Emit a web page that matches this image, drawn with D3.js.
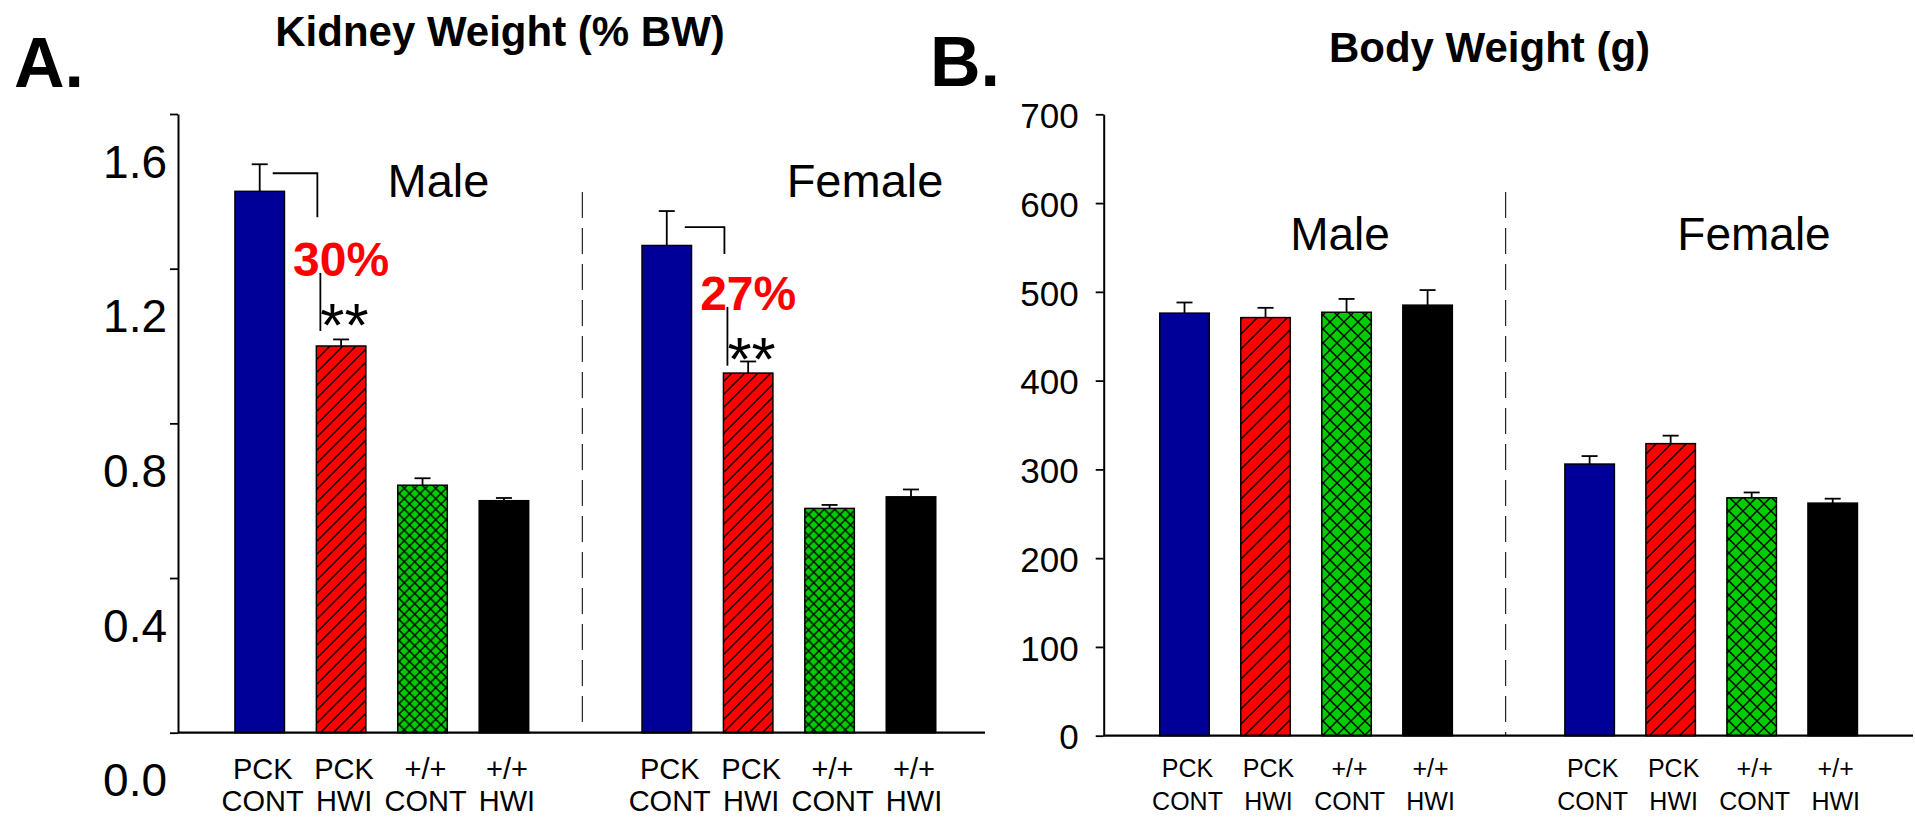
<!DOCTYPE html><html><head><meta charset="UTF-8"><script src="https://d3js.org/d3.v7.min.js"></script><style>
    body { margin: 0; background: #fff; }
    svg { font-family: "Liberation Sans", Arial, sans-serif; }
</style></head><body><div id="chart"></div><script>
    // data
    const groups = ["Male", "Female"];
    const catTop = ["PCK", "PCK", "+/+", "+/+"];
    const catBottom = ["CONT", "HWI", "CONT", "HWI"];
    const kidneyMean = [[1.40, 1.00, 0.64, 0.60], [1.26, 0.93, 0.58, 0.61]];
    const kidneyErr = [[0.070, 0.017, 0.018, 0.007], [0.089, 0.030, 0.009, 0.019]];
    const kidneyTicks = [0, 0.4, 0.8, 1.2, 1.6];
    const bodyMean = [[476, 471, 477, 485], [306, 329, 268, 262]];
    const bodyErr = [[12, 11, 15, 17], [9, 9, 6, 5]];
    const bodyTicks = [0, 100, 200, 300, 400, 500, 600, 700];
    const reductions = ["30%", "27%"];

    const svg = d3.select('#chart').append('svg')
        .attr('width', 1915).attr('height', 818);

    const defs = svg.append('defs');
    function hatch(id, s) {
        const p = defs.append('pattern').attr('id', id)
            .attr('patternUnits', 'userSpaceOnUse').attr('width', s).attr('height', s);
        p.append('rect').attr('width', s).attr('height', s).attr('fill', '#ff0000');
        p.append('path').attr('d', `M0,${s} L${s},0 M-2,2 L2,-2 M${s-2},${s+2} L${s+2},${s-2}`)
            .attr('stroke', '#000').attr('stroke-width', 1.4);
    }
    function cross(id, s) {
        const p = defs.append('pattern').attr('id', id)
            .attr('patternUnits', 'userSpaceOnUse').attr('width', s).attr('height', s);
        p.append('rect').attr('width', s).attr('height', s).attr('fill', '#00cc00');
        p.append('path').attr('d', `M0,0 L${s},${s} M${s},0 L0,${s}`)
            .attr('stroke', '#000').attr('stroke-width', 1.4);
    }
    hatch('redA', 13); cross('greenA', 10.5);
    hatch('redB', 15); cross('greenB', 14);

    function drawPanel(cfg) {
        const g = svg.append('g');
        const x = d3.scalePoint().domain(d3.range(9)).range(cfg.xRange);
        const y = d3.scaleLinear().domain(cfg.domain).range(cfg.yRange);
        const bw = 49.5;
        const fills = ['#000099', `url(#${cfg.red})`, `url(#${cfg.green})`, '#000'];

        const rows = [];
        groups.forEach((grp, gi) => cfg.mean[gi].forEach((v, ci) => {
            rows.push({slot: gi * 5 + ci, ci, v, e: cfg.err[gi][ci]});
        }));

        // divider
        g.append('line')
            .attr('x1', x(4) - 3).attr('x2', x(4) - 3)
            .attr('y1', cfg.divTop).attr('y2', y(0))
            .attr('stroke', '#222').attr('stroke-width', 1.2)
            .attr('stroke-dasharray', '26,10');

        // error bars
        const eb = g.append('g').attr('stroke', '#000').attr('stroke-width', 1.8);
        rows.forEach(d => {
            eb.append('line').attr('x1', x(d.slot)).attr('x2', x(d.slot))
                .attr('y1', y(d.v)).attr('y2', y(d.v + d.e));
            eb.append('line').attr('x1', x(d.slot) - 8).attr('x2', x(d.slot) + 8)
                .attr('y1', y(d.v + d.e)).attr('y2', y(d.v + d.e));
        });

        g.append('g').selectAll('rect').data(rows).join('rect')
            .attr('x', d => x(d.slot) - bw / 2)
            .attr('y', d => y(d.v))
            .attr('width', bw)
            .attr('height', d => y(0) - y(d.v))
            .attr('fill', d => fills[d.ci])
            .attr('stroke', '#000').attr('stroke-width', 1.5);

        // axis
        const ax = g.append('g').attr('transform', `translate(${cfg.axisX},0)`)
            .call(d3.axisLeft(y).tickValues(cfg.ticks).tickSize(8).tickSizeOuter(0)
                .tickPadding(cfg.pad).tickFormat(cfg.fmt));
        ax.select('.domain').attr('stroke-width', 2);
        ax.selectAll('.tick line').attr('stroke-width', 1.8);
        ax.selectAll('.tick text').attr('font-size', cfg.tickFont)
            .attr('font-family', '"Liberation Sans", Arial, sans-serif')
            .attr('fill', '#000')
            .attr('transform', `translate(0,${cfg.labelShift})`);

        // baseline
        g.append('line').attr('x1', cfg.axisX).attr('x2', cfg.baseEnd)
            .attr('y1', y(0)).attr('y2', y(0))
            .attr('stroke', '#000').attr('stroke-width', 2.2);

        // category labels
        const lab = g.append('g').attr('font-size', cfg.catFont).attr('text-anchor', 'middle');
        rows.forEach(d => {
            lab.append('text').attr('x', x(d.slot) + 3).attr('y', cfg.catY[0]).text(catTop[d.ci]);
            lab.append('text').attr('x', x(d.slot) + 3).attr('y', cfg.catY[1]).text(catBottom[d.ci]);
        });

        // group labels
        groups.forEach((grp, gi) => {
            g.append('text').attr('x', cfg.groupX[gi]).attr('y', cfg.groupY)
                .attr('text-anchor', 'middle').attr('font-size', cfg.groupFont).text(grp);
        });

        g.append('text').attr('x', cfg.titleX).attr('y', cfg.titleY)
            .attr('text-anchor', 'middle').attr('font-size', 42).attr('font-weight', 'bold')
            .text(cfg.title);
        g.append('text').attr('x', cfg.letterX).attr('y', cfg.letterY)
            .attr('font-size', 70).attr('font-weight', 'bold').text(cfg.letter);

        return {x, y, rows};
    }

    const A = drawPanel({
        xRange: [259.7, 911], domain: [0, 1.6], yRange: [732.7, 114],
        mean: kidneyMean, err: kidneyErr, ticks: kidneyTicks, fmt: d3.format('.1f'),
        red: 'redA', green: 'greenA', axisX: 178, pad: 3, tickFont: 46, labelShift: 48.5,
        baseEnd: 985, divTop: 192, catFont: 29, catY: [779, 811],
        groupX: [438.5, 865], groupY: 197, groupFont: 47,
        title: 'Kidney Weight (% BW)', titleX: 500, titleY: 46,
        letter: 'A.', letterX: 14, letterY: 87
    });

    drawPanel({
        xRange: [1184.5, 1832.7], domain: [0, 700], yRange: [735.7, 114.3],
        mean: bodyMean, err: bodyErr, ticks: bodyTicks, fmt: d3.format('d'),
        red: 'redB', green: 'greenB', axisX: 1103.7, pad: 17, tickFont: 35, labelShift: 2,
        baseEnd: 1913, divTop: 192, catFont: 25, catY: [777, 810],
        groupX: [1340, 1754], groupY: 250, groupFont: 46,
        title: 'Body Weight (g)', titleX: 1489.5, titleY: 62,
        letter: 'B.', letterX: 930, letterY: 86
    });

    // significance brackets on the kidney panel (PCK CONT vs PCK HWI)
    const bracketOffset = [13, 18];
    const bracketDrop = [[9, 53], [16, 43]];
    const lineSpan = [[1.189, 1.039], [1.101, 0.949]];
    groups.forEach((grp, gi) => {
        const c = A.x(gi * 5), h = A.x(gi * 5 + 1);
        const top = A.y(kidneyMean[gi][0] + kidneyErr[gi][0]);
        const left = h - 24.75;
        const by = top + bracketDrop[gi][0];
        svg.append('path')
            .attr('d', `M${c + bracketOffset[gi]},${by} H${left + 1} V${top + bracketDrop[gi][1]}`)
            .attr('fill', 'none').attr('stroke', '#000').attr('stroke-width', 1.8);
        svg.append('line').attr('x1', left + 4).attr('x2', left + 4)
            .attr('y1', A.y(lineSpan[gi][0])).attr('y2', A.y(lineSpan[gi][1]))
            .attr('stroke', '#000').attr('stroke-width', 1.8);
        svg.append('text').attr('x', h).attr('y', A.y(lineSpan[gi][0]) + 3)
            .attr('text-anchor', 'middle').attr('font-size', 48).attr('font-weight', 'bold')
            .attr('fill', '#ff0000').text(reductions[gi]);
        svg.append('text').attr('x', left + 4).attr('y', A.y(lineSpan[gi][0]) + 73)
            .attr('font-size', 62).text('**');
    });
</script></body></html>
